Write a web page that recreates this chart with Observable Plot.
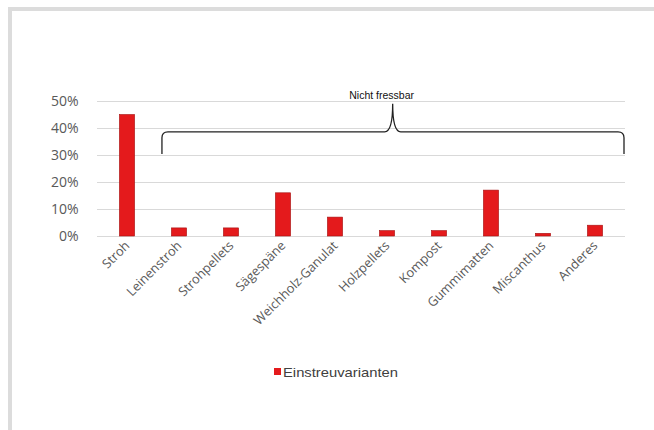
<!DOCTYPE html>
<html>
<head>
<meta charset="utf-8">
<script src="https://cdn.jsdelivr.net/npm/d3@7"></script>
<script src="https://cdn.jsdelivr.net/npm/@observablehq/plot@0.6"></script>
<style>
  html, body { margin: 0; padding: 0; background: #fff; }
  #wrap { position: relative; width: 654px; height: 430px; overflow: hidden; }
  #frame { position: absolute; left: 8px; top: 7px; width: 660px; height: 440px;
           border-left: 4px solid #dcdcdc; border-top: 4px solid #dcdcdc; box-sizing: border-box; }
  #chart { position: absolute; left: 0; top: 0; }
</style>
</head>
<body>
<div id="wrap"><div id="frame"></div><div id="chart"></div></div>
<script>
// Data
const categories = ["Stroh", "Leinenstroh", "Strohpellets", "Sägespäne", "Weichholz-Ganulat",
                    "Holzpellets", "Kompost", "Gummimatten", "Miscanthus", "Anderes"];
const values = [0.45, 0.03, 0.03, 0.16, 0.07, 0.02, 0.02, 0.17, 0.01, 0.04];
const yTicks = [0, 0.1, 0.2, 0.3, 0.4, 0.5];
const seriesName = "Einstreuvarianten";
const braceLabel = "Nicht fressbar";
// brace: y levels in data units, x as fractions of the plot width
const braceEndY = 0.304, braceLineY = 0.386, bracePeakY = 0.49;
const braceLeft = 0.123, bracePeak = 0.56, braceRight = 1.0;

const data = categories.map((c, i) => ({category: c, value: values[i]}));
const font = "'Open Sans', 'Liberation Sans', sans-serif";

const plot = Plot.plot({
  width: 654,
  height: 430,
  marginLeft: 97,
  marginRight: 29,
  marginTop: 101,
  marginBottom: 194,
  style: {fontFamily: font, background: "transparent", overflow: "visible"},
  x: {domain: categories, padding: 0, label: null},
  y: {domain: [0, 0.5], label: null},
  marks: [
    Plot.gridY(yTicks, {stroke: "#d9d9d9", strokeOpacity: 1}),
    Plot.barY(data, {x: "category", y: "value", fill: "#e41a1c", stroke: "#a51313",
                     strokeWidth: 0.6, insetLeft: 18.4, insetRight: 18.4}),
    Plot.axisY({ticks: yTicks, tickFormat: d => Math.round(d * 100) + "%", tickSize: 0,
                tickPadding: 19, fontSize: 14, fill: "#595959", label: null}),
    Plot.axisX({tickSize: 0, tickRotate: -45, tickPadding: 7, fontSize: 12.8,
                fill: "#595959", label: null})
  ]
});
document.getElementById("chart").appendChild(plot);

// brace drawn with the plot's scales
const sx = plot.scale("x"), sy = plot.scale("y");
const [x0r, x1r] = sx.range;
const fx = f => x0r + f * (x1r - x0r);
const xl = fx(braceLeft), xp = fx(bracePeak), xr = fx(braceRight) - 1;
const yE = sy.apply(braceEndY), yL = sy.apply(braceLineY), yP = sy.apply(bracePeakY);
const r = 6;
const path = `M${xl},${yE} L${xl},${yL + r} Q${xl},${yL} ${xl + r},${yL}
  L${xp - 8},${yL} Q${xp},${yL} ${xp},${yP} Q${xp},${yL} ${xp + 8},${yL}
  L${xr - r},${yL} Q${xr},${yL} ${xr},${yL + r} L${xr},${yE}`;
const svg = d3.select(plot);
svg.append("path").attr("d", path).attr("fill", "none").attr("stroke", "#222").attr("stroke-width", 1.3);
svg.append("text").attr("x", xp - 11).attr("y", yP - 5).attr("text-anchor", "middle")
  .attr("font-size", 10.5).attr("font-family", "'Liberation Sans', Arial, sans-serif")
  .attr("fill", "#111").text(braceLabel);

// legend
const lg = svg.append("g").attr("transform", "translate(274,368)");
lg.append("rect").attr("width", 7).attr("height", 7).attr("fill", "#e41a1c");
lg.append("text").attr("x", 9).attr("y", 8.5).attr("font-size", 13.5).attr("text-anchor", "start")
  .attr("font-family", "'Liberation Sans', Arial, sans-serif").attr("fill", "#404040")
  .attr("textLength", 115).attr("lengthAdjust", "spacingAndGlyphs").text(seriesName);
</script>
</body>
</html>
